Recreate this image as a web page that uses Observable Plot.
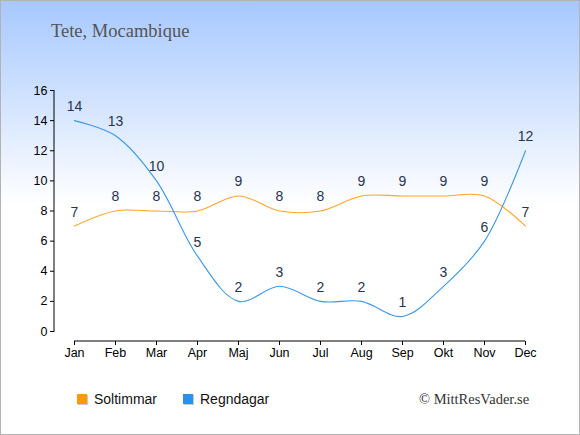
<!DOCTYPE html>
<html>
<head>
<meta charset="utf-8">
<script src="https://cdn.jsdelivr.net/npm/d3@7"></script>
<script src="https://cdn.jsdelivr.net/npm/@observablehq/plot@0.6"></script>
<style>
  html, body { margin: 0; padding: 0; }
  #wrap { position: relative; width: 580px; height: 435px; overflow: hidden;
    background: linear-gradient(to bottom, #a6c8ff 0px, #ffffff 205px, #ffffff 435px); }
  #border { position: absolute; left: 0; top: 0; width: 580px; height: 435px; box-sizing: border-box;
    border: 1px solid #b3b3b3; pointer-events: none; }
  #title { position: absolute; left: 51px; top: 22px; font: 18.5px "Liberation Serif", serif; line-height: 1; color: #555; white-space: nowrap; }
  #chart { position: absolute; left: 0; top: 0; }
  .lg { position: absolute; font: 14px "Liberation Sans", Arial, sans-serif; line-height: 1; color: #111; white-space: nowrap; }
  .sq { position: absolute; width: 10px; height: 10px; box-shadow: 1px 1px 0 #c8c8c8; }
  #copy { position: absolute; left: 419px; top: 392px; font: 14.5px "Liberation Serif", serif; line-height: 1; color: #333; white-space: nowrap; }
</style>
</head>
<body>
<div id="wrap">
  <div id="title">Tete, Mocambique</div>
  <div id="chart"></div>
  <div class="sq" style="left:77px;top:394px;background:#ff9900"></div>
  <div class="lg" style="left:94px;top:392px">Soltimmar</div>
  <div class="sq" style="left:183px;top:394px;background:#2b90e8"></div>
  <div class="lg" style="left:200px;top:392px">Regndagar</div>
  <div id="copy">© MittResVader.se</div>
  <div id="border"></div>
</div>
<script>
const months = ["Jan","Feb","Mar","Apr","Maj","Jun","Jul","Aug","Sep","Okt","Nov","Dec"];
const soltimmar = [7,8,8,8,9,8,8,9,9,9,9,7];
const regndagar = [14,13,10,5,2,3,2,2,1,3,6,12];
const yTicks = [0,2,4,6,8,10,12,14,16];

const sunData = months.map((m, i) => ({month: m, value: soltimmar[i]}));
const rainData = months.map((m, i) => ({month: m, value: regndagar[i]}));

const sunColor = "#ffa526";
const rainColor = "#3a97e8";
const labelColor = "#273450";

const plot = Plot.plot({
  width: 580,
  height: 370,
  marginLeft: 54,
  marginRight: 55,
  marginTop: 90,
  marginBottom: 29,
  style: { background: "transparent", overflow: "visible" },
  x: { type: "point", domain: months, range: [74, 525], padding: 0 },
  y: { domain: [0, 16], range: [331, 90] },
  marks: [
    Plot.axisY({ ticks: yTicks, tickSize: 4, tickPadding: 3, fontSize: 12.5, color: "#000", label: null,
      fontFamily: "Liberation Sans, Arial, sans-serif" }),
    Plot.axisX({ tickSize: 4, tickPadding: 3, fontSize: 12.5, color: "#000", label: null,
      fontFamily: "Liberation Sans, Arial, sans-serif" }),
    Plot.line(sunData, { x: "month", y: "value", stroke: sunColor, strokeWidth: 1.1, curve: "catmull-rom" }),
    Plot.line(rainData, { x: "month", y: "value", stroke: rainColor, strokeWidth: 1.1, curve: "catmull-rom" }),
    Plot.text(sunData, { x: "month", y: "value", text: d => String(d.value), dy: -14, fill: labelColor,
      fontSize: 14, fontFamily: "Liberation Sans, Arial, sans-serif" }),
    Plot.text(rainData, { x: "month", y: "value", text: d => String(d.value), dy: -14, fill: labelColor,
      fontSize: 14, fontFamily: "Liberation Sans, Arial, sans-serif" })
  ]
});

// axis domain lines drawn through the plot's own scales
const xs = plot.scale("x"), ys = plot.scale("y");
const svg = d3.select(plot);
const yLineX = 54;
svg.append("line")
  .attr("x1", yLineX).attr("x2", yLineX)
  .attr("y1", ys.apply(0) + 1).attr("y2", ys.apply(16))
  .attr("stroke", "#000").attr("stroke-width", 1);
svg.append("line")
  .attr("x1", xs.apply("Jan")).attr("x2", xs.apply("Dec"))
  .attr("y1", 341).attr("y2", 341)
  .attr("stroke", "#000").attr("stroke-width", 1);

document.getElementById("chart").appendChild(plot);
</script>
</body>
</html>
